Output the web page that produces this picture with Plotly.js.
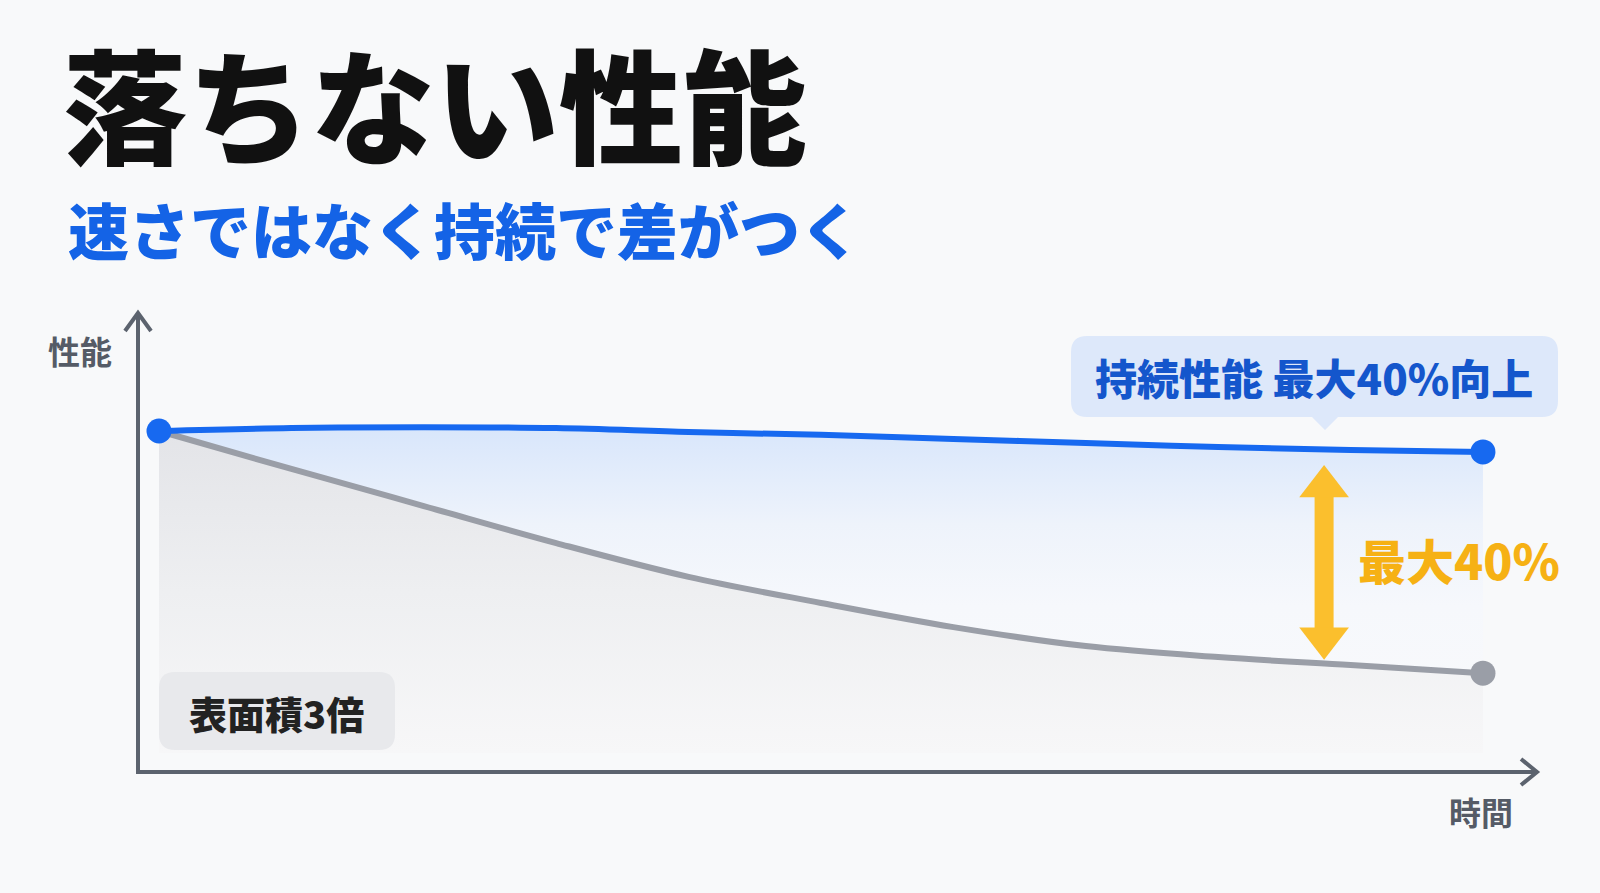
<!DOCTYPE html>
<html>
<head>
<meta charset="utf-8">
<script src="https://cdn.plot.ly/plotly-3.0.1.min.js"></script>
<style>
  html, body { margin: 0; padding: 0; background: #f8f9fa; }
  #plot { width: 1600px; height: 893px; }
</style>
</head>
<body>
<div id="plot"></div>
<script>
// time steps and performance values (start = 100)
const timeSteps = [0, 1, 2, 3, 4, 5, 6, 7, 8, 9, 10];
const sustained = [100, 100.9, 101.2, 100.9, 99.7, 98.8, 97.5, 96.3, 95.0, 94.1, 93.5];
const dropping = [100, 88.2, 76.7, 65.2, 54.7, 46.6, 39.1, 33.2, 29.8, 27.3, 24.8];

// gap arrow between the two curves
const gapX = 8.8;
const gapTop = 82.8;
const gapBottom = 35.6;

const W = 1600, H = 893;
const FONT = '"Noto Sans CJK JP", "Noto Sans", sans-serif';

// pixel -> paper helpers for the decorations
function pt(x, y) {
    return (x / W).toFixed(5) + ',' + (1 - y / H).toFixed(5);
}

function roundRect(x0, y0, x1, y1, r, tip) {
    let d = 'M' + pt(x0 + r, y0) + ' L' + pt(x1 - r, y0) +
        ' Q' + pt(x1, y0) + ' ' + pt(x1, y0 + r) +
        ' L' + pt(x1, y1 - r) + ' Q' + pt(x1, y1) + ' ' + pt(x1 - r, y1);
    if (tip) {
        d += ' L' + pt(tip.x + tip.w / 2, y1) + ' L' + pt(tip.x, y1 + tip.h) + ' L' + pt(tip.x - tip.w / 2, y1);
    }
    d += ' L' + pt(x0 + r, y1) + ' Q' + pt(x0, y1) + ' ' + pt(x0, y1 - r) +
        ' L' + pt(x0, y0 + r) + ' Q' + pt(x0, y0) + ' ' + pt(x0 + r, y0) + ' Z';
    return d;
}

const blue = '#1769f0';
const gray = '#9a9ea7';
const last = timeSteps.length - 1;

let blueFill = {
    x: timeSteps, y: sustained,
    mode: 'lines', line: { width: 0, shape: 'spline', smoothing: 1 },
    fill: 'tozeroy',
    fillgradient: {
        type: 'vertical', start: 0, stop: 101.2,
        colorscale: [[0, '#f9fafb'], [0.45, '#f6f8fc'], [0.7, '#eef3fb'], [1, '#d8e6fb']]
    },
    hoverinfo: 'skip'
};

let grayFill = {
    x: timeSteps, y: dropping,
    mode: 'lines', line: { width: 6, color: gray, shape: 'spline', smoothing: 1 },
    fill: 'tozeroy',
    fillgradient: {
        type: 'vertical', start: 0, stop: 100,
        colorscale: [[0, '#f7f7f8'], [0.5, '#eeeff1'], [1, '#e3e4e8']]
    },
    hoverinfo: 'skip'
};

let blueLine = {
    x: timeSteps, y: sustained,
    mode: 'lines', line: { width: 6, color: blue, shape: 'spline', smoothing: 1 },
    hoverinfo: 'skip'
};

let endPoints = {
    x: [timeSteps[last], timeSteps[0], timeSteps[last]],
    y: [dropping[last], sustained[0], sustained[last]],
    mode: 'markers',
    marker: { size: 25, color: [gray, blue, blue] },
    hoverinfo: 'skip'
};

let gapArrow = {
    x: [gapX, gapX], y: [gapTop, gapBottom],
    mode: 'lines+markers',
    line: { width: 19, color: '#fbbf2d' },
    marker: { size: 43, color: '#fbbf2d', symbol: ['triangle-up', 'triangle-down'] },
    hoverinfo: 'skip'
};

let data = [blueFill, grayFill, blueLine, endPoints, gapArrow];

const axisColor = '#5c636e';

let shapes = [
    // callout bubble
    { type: 'path', xref: 'paper', yref: 'paper', layer: 'below',
      path: roundRect(1071, 336, 1558, 417, 16, { x: 1325, w: 26, h: 13 }),
      fillcolor: '#dde8fa', line: { width: 0 } },
    // axes
    { type: 'path', xref: 'paper', yref: 'paper', layer: 'above',
      path: 'M' + pt(138, 314) + ' L' + pt(138, 772) + ' L' + pt(1535, 772),
      line: { color: axisColor, width: 4 } },
    { type: 'path', xref: 'paper', yref: 'paper', layer: 'above',
      path: 'M' + pt(125, 331) + ' L' + pt(138, 313) + ' L' + pt(151, 331),
      line: { color: axisColor, width: 4 } },
    { type: 'path', xref: 'paper', yref: 'paper', layer: 'above',
      path: 'M' + pt(1521, 759) + ' L' + pt(1537, 772) + ' L' + pt(1521, 785),
      line: { color: axisColor, width: 4 } },
    // label box
    { type: 'path', xref: 'paper', yref: 'paper', layer: 'above',
      path: roundRect(159, 672, 395, 750, 16),
      fillcolor: '#e8e9ec', line: { width: 0 } }
];

function label(text, xPx, yPx, size, color, anchor, weight) {
    return {
        text: text, xref: 'paper', yref: 'paper',
        x: xPx / W, y: 1 - yPx / H,
        xanchor: anchor || 'center', yanchor: 'middle',
        showarrow: false,
        font: { family: FONT, size: size, color: color, weight: weight || 700 }
    };
}

let annotations = [
    label('速さではなく持続で差がつく', 66, 229, 61, '#1463e6', 'left', 900),
    label('性能', 80, 350, 32, '#555b66', 'center', 700),
    label('時間', 1481, 811, 32, '#555b66', 'center', 700),
    label('持続性能 最大40%向上', 1314, 376, 42, '#1456cc', 'center', 900),
    label('最大40%', 1356, 559, 48, '#f6b114', 'left', 900),
    label('表面積3倍', 276, 712, 38, '#222222', 'center', 900)
];

let layout = {
    width: W, height: H,
    margin: { l: 0, r: 0, t: 0, b: 0 },
    paper_bgcolor: '#f8f9fa',
    plot_bgcolor: 'rgba(0,0,0,0)',
    showlegend: false,
    hovermode: false,
    title: {
        text: '落ちない性能',
        x: 63 / W, xanchor: 'left',
        y: 1 - 112 / H, yanchor: 'middle',
        font: { family: FONT, size: 124, color: '#111111', weight: 900 }
    },
    xaxis: { range: [-1.2009, 10.884], visible: false, fixedrange: true },
    yaxis: { range: [-43.48, 233.85], visible: false, fixedrange: true },
    shapes: shapes,
    annotations: annotations
};

Plotly.newPlot('plot', data, layout, { displayModeBar: false, staticPlot: true });
</script>
</body>
</html>
